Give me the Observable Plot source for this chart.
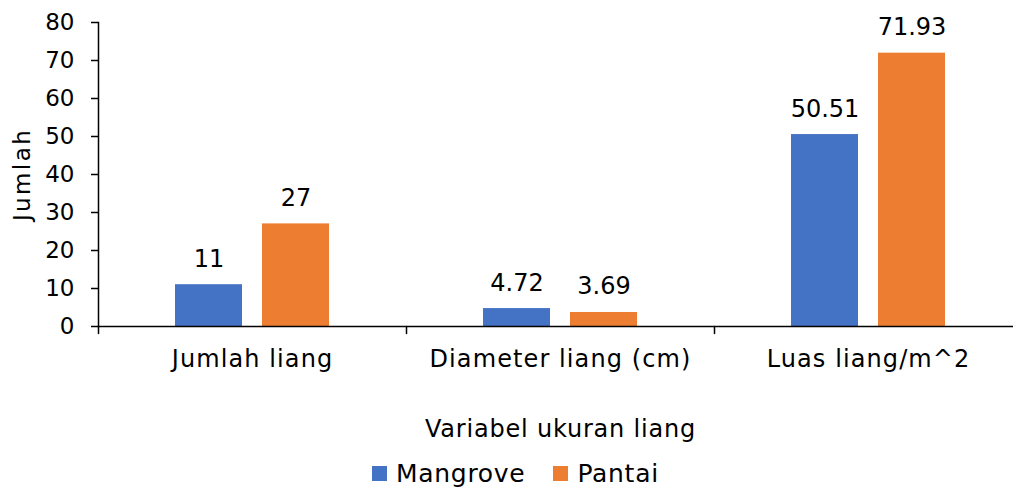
<!DOCTYPE html>
<html>
<head>
<meta charset="utf-8">
<script src="https://cdn.jsdelivr.net/npm/d3@7"></script>
<script src="https://cdn.jsdelivr.net/npm/@observablehq/plot@0.6"></script>
<style>
  html, body { margin: 0; padding: 0; background: #fff; overflow: hidden; }
  #chart { position: relative; width: 1013px; height: 488px; overflow: hidden; }
  #chart svg { display: block; max-width: none !important; }
  g[aria-label="fx-axis tick label"] text { letter-spacing: 1.1px; }
  g[aria-label="fx-axis label"] text { letter-spacing: 0.8px; }
  g[aria-label="y-axis label"] text { letter-spacing: 2.4px; }
  .legend { position: absolute; top: 459px; left: 372px; display: flex; align-items: center;
            font-family: "DejaVu Sans", sans-serif; font-size: 25px; color: #000; letter-spacing: 0.7px; }
  .legend .item { display: flex; align-items: center; }
  .legend .swatch { width: 15px; height: 15px; margin-right: 9px; }
  .legend .item + .item { margin-left: 28px; }
</style>
</head>
<body>
<div id="chart"></div>
<script>
// Burrow size variables for the two habitats
const categories = ["Jumlah liang", "Diameter liang (cm)", "Luas liang/m^2"];
const seriesNames = ["Mangrove", "Pantai"];
const mangrove = [11, 4.72, 50.51];
const pantai = [27, 3.69, 71.93];
const yTicks = [0, 10, 20, 30, 40, 50, 60, 70, 80];
const colors = ["#4472C4", "#ED7D31"];

const seriesValues = [mangrove, pantai];
const rows = categories.flatMap((category, i) =>
  seriesNames.map((series, s) => ({category, series, value: seriesValues[s][i]}))
);

// short downward stroke used for the category boundary ticks
const tickShape = {
  draw(context, l) {
    context.moveTo(0, 0);
    context.lineTo(0, -l);
  }
};

const chart = Plot.plot({
  width: 1023,
  height: 448,
  marginLeft: 97,
  marginRight: 0,
  marginTop: 22,
  marginBottom: 122,
  style: {fontFamily: "DejaVu Sans, sans-serif", fontSize: "23px", color: "#000", background: "#fff", maxWidth: "none"},
  fx: {domain: categories, padding: 0, label: null},
  x: {domain: seriesNames, paddingInner: 0.227, paddingOuter: 0.867, axis: null},
  y: {domain: [0, 80]},
  color: {domain: seriesNames, range: colors},
  marks: [
    Plot.barY(rows, {fx: "category", x: "series", y: "value", fill: "series"}),
    Plot.text(rows, {
      fx: "category", x: "series", y: "value",
      text: d => String(d.value),
      lineAnchor: "bottom", dy: -18, fontSize: 24, fill: "#000"
    }),
    Plot.ruleY([0], {stroke: "#000", strokeWidth: 1.5}),
    Plot.frame({anchor: "left", facetAnchor: "left", stroke: "#000", strokeWidth: 1.5}),
    Plot.vector([0], {
      frameAnchor: "bottom-left", anchor: "start", rotate: 180,
      length: 7, shape: tickShape, stroke: "#000", strokeWidth: 1.5
    }),
    Plot.axisY({
      ticks: yTicks, tickSize: 7, tickPadding: 17, fontSize: 23,
      label: "Jumlah", labelAnchor: "center", labelArrow: "none", labelOffset: 85,
      stroke: "#000", strokeWidth: 1.5
    }),
    Plot.axisFx({
      anchor: "bottom", tickSize: 0, tickPadding: 23, fontSize: 24,
      label: "Variabel ukuran liang", labelAnchor: "center", labelArrow: "none", labelOffset: 110
    })
  ]
});

const root = document.getElementById("chart");
root.appendChild(chart);

// legend below the plot
const legend = d3.select(root).append("div").attr("class", "legend");
const items = legend.selectAll(".item").data(seriesNames).join("div").attr("class", "item");
items.append("div").attr("class", "swatch").style("background", (d, i) => colors[i]);
items.append("span").text(d => d);
</script>
</body>
</html>
